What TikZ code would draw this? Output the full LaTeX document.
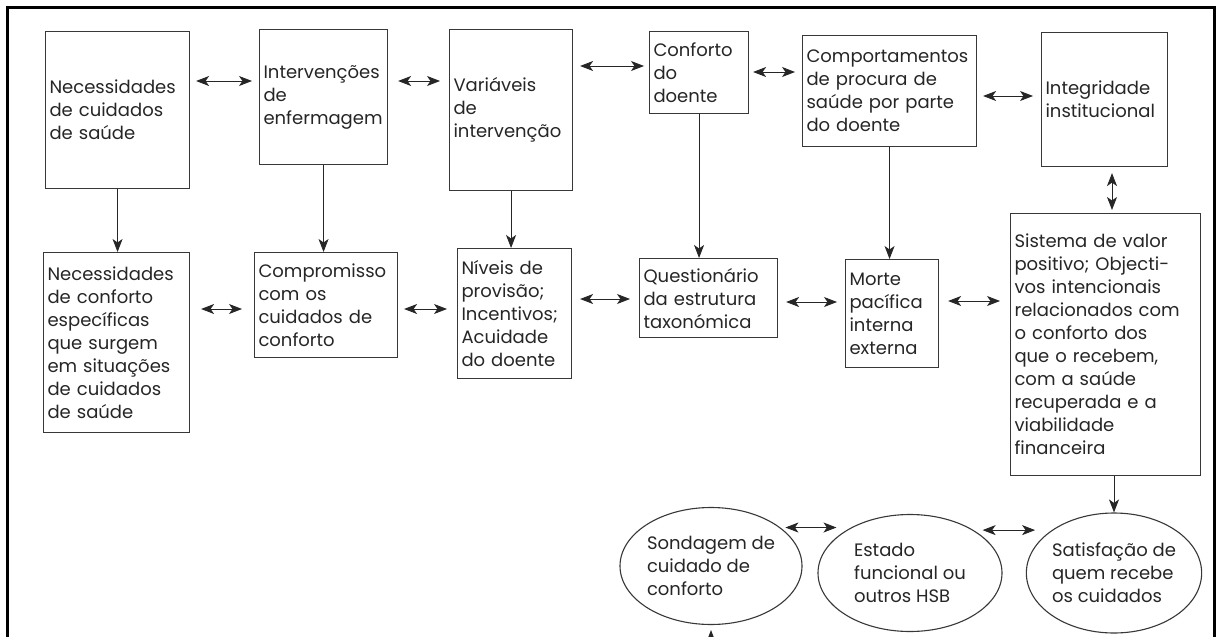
\documentclass[tikz,border=0pt]{standalone}
\usepackage{fontspec}
\setmainfont{Poppins}
\usetikzlibrary{arrows.meta,shapes.geometric}
\begin{document}
\begin{tikzpicture}[x=1pt,y=-1pt,
  every node/.style={font=\fontsize{18}{23}\selectfont, text=black!85},
  box/.style={draw=black!78, line width=1.1pt, rectangle, anchor=north west,
    inner xsep=4pt, inner ysep=0pt, align=left},
  oval/.style={draw=black!78, line width=1.1pt, ellipse, inner sep=0pt, align=left},
  head/.tip={Stealth[length=13pt,width=10pt,inset=3.5pt]},
  link/.style={draw=black!85, line width=0.85pt, -head},
  both/.style={draw=black!85, line width=0.85pt, head-head}
]
\clip (0,0) rectangle (1216,637);
\fill[white] (0,0) rectangle (1216,637);

% outer frame (open at the bottom)
\draw[line width=3.5pt] (7.5,645) -- (7.5,7.5) -- (1214.5,7.5) -- (1214.5,645);

% first row
\node[box, minimum width=144pt, minimum height=157pt, text width=136pt] (b1) at (45,31)
  {Necessidades\\de cuidados\\de saúde};
\node[box, minimum width=128pt, minimum height=135pt, text width=120pt] (b2) at (259,29)
  {Intervenções\\de\\enfermagem};
\node[box, minimum width=123pt, minimum height=161pt, text width=115pt] (b3) at (449,29)
  {Variáveis\\de\\intervenção};
\node[box, minimum width=99pt, minimum height=82pt, text width=91pt] (b4) at (649,31)
  {Conforto\\do\\doente};
\node[box, minimum width=174pt, minimum height=111pt, text width=166pt] (b5) at (802,35)
  {Comportamentos\\de procura de\\saúde por parte\\do doente};
\node[box, minimum width=126pt, minimum height=134pt, text width=118pt] (b6) at (1041,32)
  {Integridade\\institucional};

% second row
\node[box, minimum width=146pt, minimum height=180pt, text width=138pt] (b7) at (43,252)
  {Necessidades\\de conforto\\específicas\\que surgem\\em situações\\de cuidados\\de saúde};
\node[box, minimum width=143pt, minimum height=105pt, text width=135pt] (b8) at (254,252)
  {Compromisso\\com os\\cuidados de\\conforto};
\node[box, minimum width=114pt, minimum height=130pt, text width=106pt] (b9) at (457,248)
  {Níveis de\\provisão;\\Incentivos;\\Acuidade\\do doente};
\node[box, minimum width=138pt, minimum height=79pt, text width=130pt] (b10) at (639,258)
  {Questionário\\da estrutura\\taxonómica};
\node[box, minimum width=93pt, minimum height=108pt, text width=85pt] (b11) at (845,259)
  {Morte\\pacífica\\interna\\externa};
\node[box, minimum width=190pt, minimum height=262pt, text width=182pt] (b12) at (1010,213)
  {Sistema de valor\\positivo; Objecti-\\vos intencionais\\relacionados com\\o conforto dos\\que o recebem,\\com a saúde\\recuperada e a\\viabilidade\\financeira};

% outcome ellipses
\node[oval, minimum width=182pt, minimum height=117pt] (e1) at (711,566)
  {Sondagem de\\cuidado de\\conforto};
\node[oval, minimum width=184pt, minimum height=117pt] (e2) at (910,573)
  {Estado\\funcional ou\\outros HSB};
\node[oval, minimum width=172pt, minimum height=120pt] (e3) at (1114,573)
  {Satisfação de\\quem recebe\\os cuidados};

\coordinate (vx) at (1112,0);
\coordinate (below) at (711,660);

% horizontal links, first row
\draw[both, shorten <=6pt, shorten >=7pt] (b1.east |- 0,81) -- (b2.west |- 0,81);
\draw[both, shorten <=10pt, shorten >=9pt] (b2.east |- 0,81) -- (b3.west |- 0,81);
\draw[both, shorten <=7pt, shorten >=5pt] (b3.east |- 0,66) -- (b4.west |- 0,66);
\draw[both, shorten <=4pt, shorten >=7pt] (b4.east |- 0,72) -- (b5.west |- 0,72);
\draw[both, shorten <=6pt, shorten >=8pt] (b5.east |- 0,96) -- (b6.west |- 0,96);

% horizontal links, second row
\draw[both, shorten <=11pt, shorten >=12pt] (b7.east |- 0,309) -- (b8.west |- 0,309);
\draw[both, shorten <=6pt, shorten >=10pt] (b8.east |- 0,309) -- (b9.west |- 0,309);
\draw[both, shorten <=8pt, shorten >=9pt] (b9.east |- 0,299) -- (b10.west |- 0,299);
\draw[both, shorten <=8pt, shorten >=8pt] (b10.east |- 0,302) -- (b11.west |- 0,302);
\draw[both, shorten <=9pt, shorten >=10pt] (b11.east |- 0,301) -- (b12.west |- 0,301);

% vertical links
\draw[link] (b1.south) -- (b7.north -| b1.south);
\draw[link] (b2.south) -- (b8.north -| b2.south);
\draw[link] (b3.south) -- (b9.north -| b3.south);
\draw[link] (b4.south) -- (b10.north -| b4.south);
\draw[link] (b5.south) -- (b11.north -| b5.south);
\draw[both, shorten <=6pt, shorten >=3pt] (b6.south -| vx) -- (b12.north -| vx);
\draw[link] (b12.south -| e3.north) -- (e3.north);

% links between the ellipses
\draw[both, shorten <=5pt, shorten >=15pt] (e1.29) -- (e1.29 -| e2.142);
\draw[both, shorten <=9pt, shorten >=16pt] (e2.34) -- (e2.34 -| e3.146);
\draw[link, shorten >=5pt] (below) -- (e1.south);
\end{tikzpicture}
\end{document}
